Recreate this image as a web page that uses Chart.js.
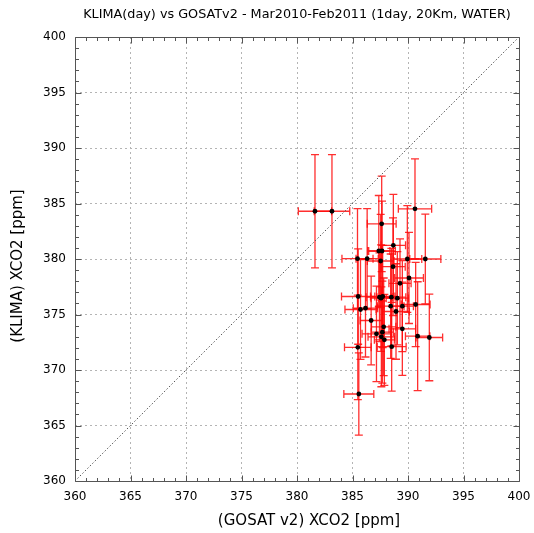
<!DOCTYPE html>
<html>
<head>
<meta charset="utf-8">
<script src="https://cdn.jsdelivr.net/npm/chart.js@4/dist/chart.umd.min.js"></script>
<style>
  html, body { margin: 0; padding: 0; background: #fff; }
  #wrap { width: 534px; height: 533px; }
</style>
</head>
<body>
<div id="wrap"><canvas id="c" width="534" height="533"></canvas></div>
<script>
// GOSAT v2 XCO2 (x) vs KLIMA XCO2 (y), with 1-sigma errors, ppm
const gosatX = [390.63, 387.63, 388.68, 387.37, 387.66, 385.45, 386.32, 387.54, 389.94, 391.56,
                388.65, 390.09, 389.28, 385.51, 387.43, 387.72, 387.57, 388.50, 389.04, 390.69,
                388.44, 389.49, 386.17, 385.72, 388.92, 386.68, 387.81, 389.49, 387.16, 387.69,
                387.60, 387.87, 390.87, 391.92, 388.53, 385.48, 385.57, 381.62, 383.15];
const klimaY = [384.52, 383.17, 381.23, 380.72, 380.72, 380.03, 380.03, 379.82, 380.00, 380.00,
                379.31, 378.29, 377.81, 376.62, 376.56, 376.62, 376.47, 376.56, 376.47, 375.90,
                375.75, 375.75, 375.57, 375.45, 375.27, 374.46, 373.89, 373.71, 373.26, 373.41,
                372.99, 372.72, 373.05, 372.93, 372.10, 372.04, 367.84, 384.30, 384.30];
const gosatErr = [1.5, 1.3, 1.1, 1.0, 1.2, 1.4, 1.0, 1.2, 1.3, 1.4,
                  1.1, 1.3, 1.0, 1.5, 1.2, 1.1, 0.9, 1.3, 1.0, 1.3,
                  1.2, 1.0, 1.1, 1.4, 1.2, 1.0, 1.1, 1.2, 1.3, 1.0,
                  1.2, 0.9, 1.1, 1.2, 1.3, 1.2, 1.35, 1.5, 1.6];
const klimaErr = [4.5, 4.3, 4.6, 5.0, 4.5, 4.5, 4.5, 4.2, 4.8, 4.05,
                  4.4, 4.1, 4.0, 4.3, 4.0, 4.6, 4.8, 4.4, 4.2, 3.8,
                  4.7, 4.1, 4.4, 4.5, 4.3, 4.0, 4.4, 4.2, 4.3, 4.6,
                  4.5, 4.1, 4.9, 3.9, 4.0, 4.7, 3.7, 5.1, 5.1];
const axisMin = 360, axisMax = 400, majorStep = 5, minorStep = 1;
const oneToOne = [360, 400];
const chartTitle = 'KLIMA(day) vs GOSATv2 - Mar2010-Feb2011 (1day, 20Km, WATER)';
const xTitle = '(GOSAT v2) XCO2 [ppm]';
const yTitle = '(KLIMA) XCO2 [ppm]';

const points = gosatX.map((x, i) => ({ x: x, y: klimaY[i] }));
const diag = oneToOne.map(v => ({ x: v, y: v }));

const FONT = "'DejaVu Sans', sans-serif";

// Error bars with caps, drawn through the chart scales
const errorBars = {
  id: 'errorBars',
  beforeDatasetsDraw(chart) {
    const { ctx, scales: { x, y } } = chart;
    const cap = 4;
    ctx.save();
    ctx.strokeStyle = 'rgba(255,10,10,0.85)';
    ctx.lineWidth = 1.3;
    gosatX.forEach((gx, i) => {
      const px = x.getPixelForValue(gx), py = y.getPixelForValue(klimaY[i]);
      const x0 = x.getPixelForValue(gx - gosatErr[i]), x1 = x.getPixelForValue(gx + gosatErr[i]);
      const y0 = y.getPixelForValue(klimaY[i] - klimaErr[i]), y1 = y.getPixelForValue(klimaY[i] + klimaErr[i]);
      ctx.beginPath();
      ctx.moveTo(px, y0); ctx.lineTo(px, y1);
      ctx.moveTo(px - cap, y0); ctx.lineTo(px + cap, y0);
      ctx.moveTo(px - cap, y1); ctx.lineTo(px + cap, y1);
      ctx.moveTo(x0, py); ctx.lineTo(x1, py);
      ctx.moveTo(x0, py - cap); ctx.lineTo(x0, py + cap);
      ctx.moveTo(x1, py - cap); ctx.lineTo(x1, py + cap);
      ctx.stroke();
    });
    ctx.restore();
  }
};

// Plot frame with inward major/minor ticks on all four sides, plus titles
const frameTicks = {
  id: 'frameTicks',
  afterDraw(chart) {
    const { ctx, chartArea: a, scales: { x, y } } = chart;
    ctx.save();
    ctx.strokeStyle = '#555';
    ctx.lineWidth = 1;
    const L = Math.round(a.left) + 0.5, R = Math.round(a.right) + 0.5;
    const T = Math.round(a.top) + 0.5, B = Math.round(a.bottom) + 0.5;
    ctx.beginPath();
    ctx.rect(L, T, R - L, B - T);
    for (let v = axisMin; v <= axisMax; v += minorStep) {
      const len = (v % majorStep === 0) ? 6 : 3.5;
      const px = Math.round(x.getPixelForValue(v)) + 0.5;
      const py = Math.round(y.getPixelForValue(v)) + 0.5;
      ctx.moveTo(px, B); ctx.lineTo(px, B - len);
      ctx.moveTo(px, T); ctx.lineTo(px, T + len);
      ctx.moveTo(L, py); ctx.lineTo(L + len, py);
      ctx.moveTo(R, py); ctx.lineTo(R - len, py);
    }
    ctx.stroke();

    const cx = (a.left + a.right) / 2;
    ctx.fillStyle = '#000';
    ctx.textAlign = 'center';
    ctx.textBaseline = 'middle';
    ctx.font = '12.8px ' + FONT;
    ctx.fillText(chartTitle, cx, 15);
    ctx.font = '15px ' + FONT;
    ctx.fillText(xTitle, cx + 12, 521);
    ctx.translate(18, (a.top + a.bottom) / 2 + 7);
    ctx.rotate(-Math.PI / 2);
    ctx.fillText(yTitle, 0, 0);
    ctx.restore();
  }
};

const gridOpts = {
  color: ctx => (ctx.tick && (ctx.tick.value === axisMin || ctx.tick.value === axisMax)) ? 'rgba(0,0,0,0)' : '#b4b4b4',
  lineWidth: 1,
  drawTicks: false
};

new Chart(document.getElementById('c'), {
  type: 'scatter',
  data: {
    datasets: [
      {
        type: 'line',
        data: diag,
        borderColor: '#555',
        borderWidth: 1,
        borderDash: [1.5, 2],
        pointRadius: 0,
        fill: false
      },
      {
        data: points,
        backgroundColor: '#000',
        borderColor: '#000',
        pointRadius: 2.4,
        pointHoverRadius: 2.4,
        borderWidth: 0
      }
    ]
  },
  options: {
    responsive: false,
    animation: false,
    events: [],
    layout: { padding: { top: 37, right: 15, left: 0, bottom: 0 } },
    plugins: {
      legend: { display: false },
      tooltip: { enabled: false },
      title: { display: false }
    },
    scales: {
      x: {
        type: 'linear',
        min: axisMin, max: axisMax,
        afterFit: s => { s.height = 52; s.paddingLeft = 0; s.paddingRight = 0; },
        border: { display: false, dash: [2, 3] },
        grid: gridOpts,
        ticks: {
          stepSize: majorStep, padding: 9, color: '#000', maxRotation: 0,
          font: { family: FONT, size: 12 },
          callback: v => String(v)
        }
      },
      y: {
        type: 'linear',
        min: axisMin, max: axisMax,
        afterFit: s => { s.width = 75; s.paddingTop = 0; s.paddingBottom = 0; },
        border: { display: false, dash: [2, 3] },
        grid: gridOpts,
        ticks: {
          stepSize: majorStep, padding: 9, color: '#000',
          font: { family: FONT, size: 12 },
          callback: v => String(v)
        }
      }
    }
  },
  plugins: [errorBars, frameTicks]
});
</script>
</body>
</html>
